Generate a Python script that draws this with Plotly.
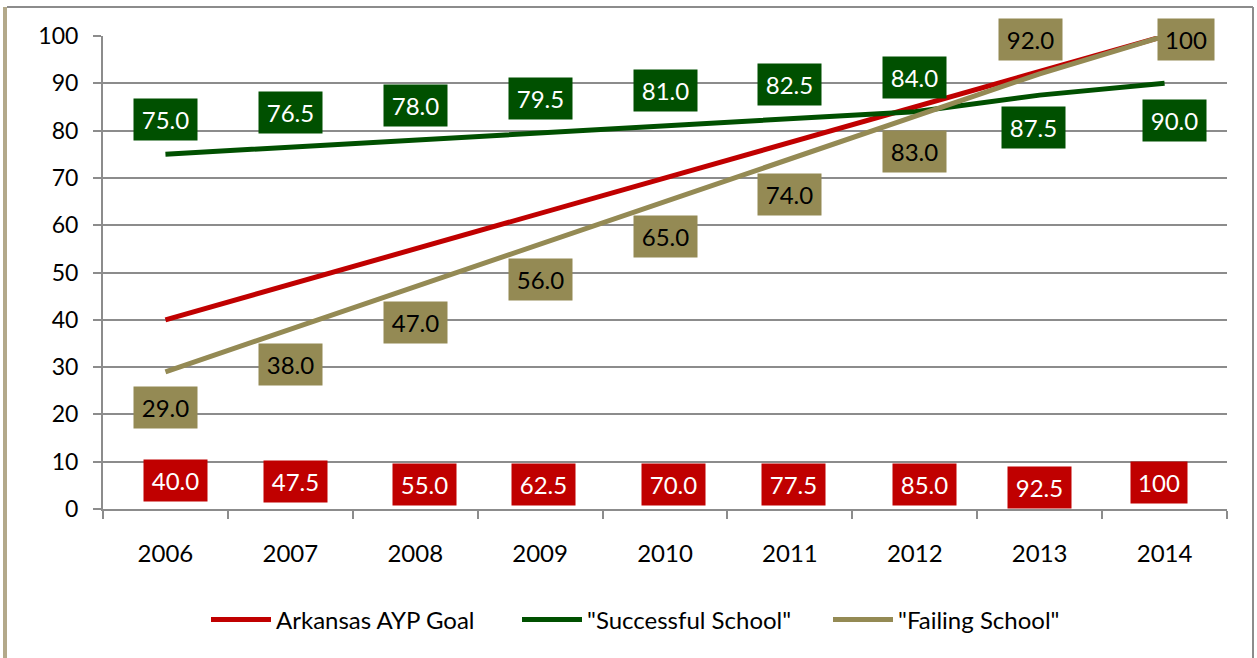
import plotly.graph_objects as go

# data
years = ["2006", "2007", "2008", "2009", "2010", "2011", "2012", "2013", "2014"]
ayp_goal = [40.0, 47.5, 55.0, 62.5, 70.0, 77.5, 85.0, 92.5, 100]
successful = [75.0, 76.5, 78.0, 79.5, 81.0, 82.5, 84.0, 87.5, 90.0]
failing = [29.0, 38.0, 47.0, 56.0, 65.0, 74.0, 83.0, 92.0, 100]

RED = "#C00000"
GREEN = "#005000"
TAN = "#948A54"
FONT = "Lato, 'Open Sans', sans-serif"

# label placement (pixel shifts) – style only
red_label_yshift = [28.5, 27.5, 25, 25, 25, 25, 25, 21.5, 26.5]
red_label_xshift = [10, 5, 9, 3, 8, 4, 10, 0, -6]
green_label_yshift = [35, 35, 35, 34.5, 35, 34.5, 34, -32.5, -37]
green_label_xshift = [0, 0, 0, 0, 0, 0, 0, -6, 10]
tan_label_yshift = [-36, -35, -36, -35, -35, -35.5, -35, 34.5, -3.5]
tan_label_xshift = [0, 0, 0, 0, 0, 0, 0, -9, 21]


def fmt(v):
    return "100" if v == 100 else f"{v:.1f}"


fig = go.Figure()
for name, vals, color in [
    ("Arkansas AYP Goal", ayp_goal, RED),
    ("\"Successful School\"", successful, GREEN),
    ("\"Failing School\"", failing, TAN),
]:
    fig.add_trace(go.Scatter(
        x=years, y=vals, mode="lines", name=name,
        line=dict(color=color, width=5),
        hovertemplate=f"{name}<br>%{{x}}: %{{y}}<extra></extra>",
    ))

annotations = []


def add_labels(vals, base, xs, ys, bg, fg):
    # x given as category index so the category axis doesn't read "2006" as a number
    for i, v in enumerate(vals):
        txt = fmt(v)
        annotations.append(dict(
            x=i, y=(base if base is not None else v),
            xref="x", yref="y", text=txt, showarrow=False,
            xshift=xs[i], yshift=ys[i],
            bgcolor=bg, font=dict(color=fg, size=24, family=FONT),
            width=(52 if len(txt) == 3 else 59), height=37, borderpad=2,
        ))


add_labels(ayp_goal, 0, red_label_xshift, red_label_yshift, RED, "white")
add_labels(successful, None, green_label_xshift, green_label_yshift, GREEN, "white")
add_labels(failing, None, tan_label_xshift, tan_label_yshift, TAN, "black")

# outer frame: convert pixel positions to paper coords
L, R, T, B = 103, 1227, 36, 509


def px(x):
    return (x - L) / (R - L)


def py(y):
    return (B - y) / (B - T)


shapes = [
    dict(type="line", xref="paper", yref="paper", x0=px(5), x1=px(5), y0=py(7), y1=py(660),
         line=dict(color="#B3A98A", width=4)),
    dict(type="line", xref="paper", yref="paper", x0=px(7), x1=px(1253), y0=py(7), y1=py(7),
         line=dict(color="#8C8C8C", width=2)),
    dict(type="line", xref="paper", yref="paper", x0=px(1253), x1=px(1253), y0=py(7), y1=py(660),
         line=dict(color="#8C8C8C", width=2)),
]

fig.update_layout(
    width=1257, height=658,
    margin=dict(l=L, r=1257 - R, t=T, b=658 - B),
    paper_bgcolor="white", plot_bgcolor="white",
    font=dict(family=FONT, size=22, color="black"),
    showlegend=True,
    legend=dict(orientation="h", x=px(206), xanchor="left", y=py(620), yanchor="middle",
                entrywidth=236, entrywidthmode="pixels", font=dict(size=24),
                itemwidth=60, bgcolor="rgba(0,0,0,0)"),
    annotations=annotations,
    shapes=shapes,
)
fig.update_xaxes(
    type="category", range=[-0.5, len(years) - 0.5], autorange=False,
    showline=True, linecolor="#8C8C8C", linewidth=2,
    ticks="outside", tickson="boundaries", ticklen=8, tickcolor="#8C8C8C", tickwidth=2,
    showgrid=False, tickfont=dict(size=24), ticklabelstandoff=22, tickangle=0,
)
fig.update_yaxes(
    range=[0, 100], autorange=False, dtick=10, showline=True, linecolor="#8C8C8C", linewidth=2,
    ticks="outside", ticklen=8, tickcolor="#8C8C8C", tickwidth=2,
    showgrid=True, gridcolor="#8C8C8C", gridwidth=1.5, zeroline=False,
    tickfont=dict(size=23), ticklabelstandoff=10,
)

# drop the browser's default 8px body margin so the figure sits at the page corner
fig.write_html("out.html", config={"displayModeBar": False},
               post_script="document.body.style.margin='0';")
